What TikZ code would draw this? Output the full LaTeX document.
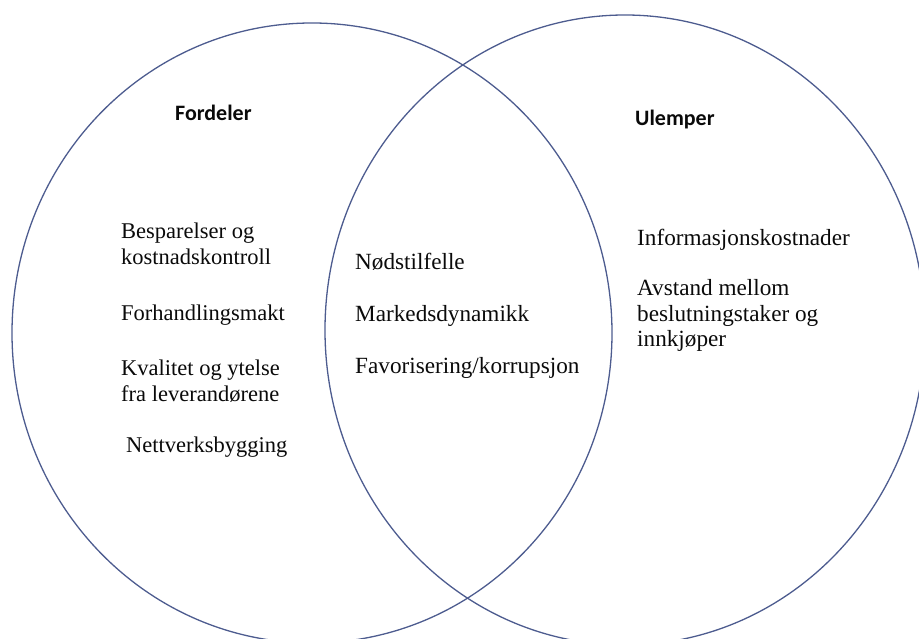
\documentclass[tikz,border=0pt]{standalone}
\usepackage{fontspec}
\setmainfont{Liberation Serif}
\newfontfamily\headfont{Carlito}
\definecolor{ringblue}{HTML}{4D5C8F}
\definecolor{inkblack}{HTML}{0A0A0A}
\tikzset{
  ring/.style={draw=ringblue, line width=1.3pt},
  txt/.style={anchor=base west, inner sep=0pt, text=inkblack, font=\fontsize{22.5}{26}\selectfont},
  txtb/.style={anchor=base west, inner sep=0pt, text=inkblack, font=\fontsize{23.2}{26}\selectfont},
  head/.style={anchor=base west, inner sep=0pt, text=inkblack, font=\headfont\bfseries\fontsize{22}{26}\selectfont}
}
\begin{document}
\begin{tikzpicture}[x=1pt,y=-1pt]
\useasboundingbox (0,0) rectangle (919,639);
\begin{scope}
\clip (0,0) rectangle (919,639);
\draw[ring] (312,333) ellipse [x radius=300pt, y radius=310pt];
\draw[ring] (625,330) ellipse [x radius=300pt, y radius=315pt];
\end{scope}
\node[head] (fordeler) at (175,121) {Fordeler};
\node[head] (ulemper) at (635,126) {Ulemper};
% left
\node[txt] (l1) at (121,239) {Besparelser og};
\node[txt] (l2) at (121,265) {kostnadskontroll};
\node[txt] (l3) at (121,320) {Forhandlingsmakt};
\node[txt] (l4) at (121,375) {Kvalitet og ytelse};
\node[txt] (l5) at (121,401) {fra leverandørene};
\node[txt] (l6) at (126,452) {Nettverksbygging};
% middle
\node[txtb] (m1) at (355,270) {Nødstilfelle};
\node[txtb] (m2) at (355,321) {Markedsdynamikk};
\node[txtb] (m3) at (355,373) {Favorisering/korrupsjon};
% right
\node[txtb] (r1) at (637,246) {Informasjonskostnader};
\node[txtb] (r2) at (637,296) {Avstand mellom};
\node[txtb] (r3) at (637,321) {beslutningstaker og};
\node[txtb] (r4) at (637,346) {innkjøper};
\end{tikzpicture}
\end{document}
